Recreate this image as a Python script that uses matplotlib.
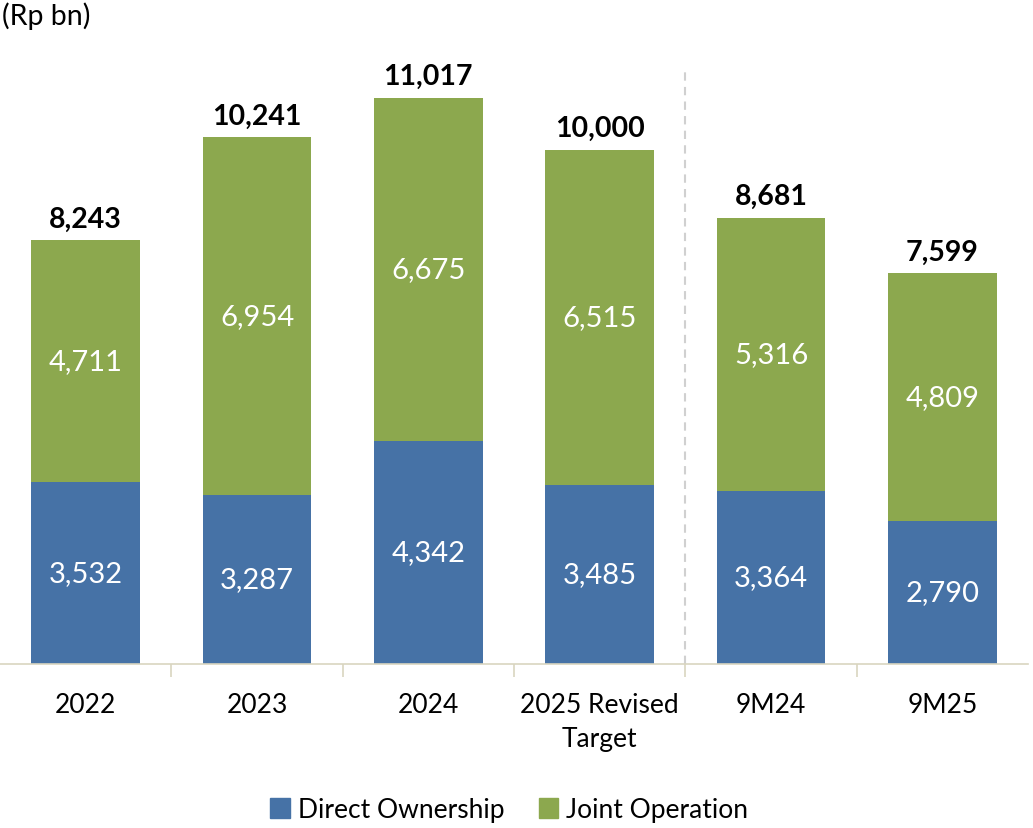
import numpy as np
import matplotlib.pyplot as plt

plt.rcParams['font.family'] = ['Lato', 'DejaVu Sans']

categories = ['2022', '2023', '2024', '2025 Revised\nTarget', '9M24', '9M25']
direct = [3532, 3287, 4342, 3485, 3364, 2790]
joint = [4711, 6954, 6675, 6515, 5316, 4809]
totals = [8243, 10241, 11017, 10000, 8681, 7599]

blue = '#4672A6'
green = '#8CA84E'

fig = plt.figure(figsize=(10.33, 8.29), dpi=100)
ax = fig.add_axes([0.0, (829 - 665) / 829, 1028 / 1033, 617 / 829])

x = np.arange(len(categories))
w = 0.635
ax.bar(x, direct, w, color=blue, zorder=2)
ax.bar(x, joint, w, bottom=direct, color=green, zorder=2)

for i in range(len(x)):
    ax.text(x[i], direct[i] / 2, f'{direct[i]:,}', ha='center', va='center',
            color='white', fontsize=21)
    ax.text(x[i], direct[i] + joint[i] / 2, f'{joint[i]:,}', ha='center', va='center',
            color='white', fontsize=21)
    ax.text(x[i], totals[i] + 170, f'{totals[i]:,}', ha='center', va='bottom',
            color='black', fontsize=20.5, fontweight='bold')

ax.set_xlim(-0.5, 5.5)
ax.set_ylim(0, 12000)
ax.axvline(3.5, ymin=0, ymax=0.96, color='#D0D0D0', lw=1.5, ls=(0, (4, 3)), zorder=1)

for s in ['top', 'right', 'left']:
    ax.spines[s].set_visible(False)
ax.spines['bottom'].set_color('#D9D5C0')
ax.spines['bottom'].set_linewidth(1.2)
ax.set_yticks([])
ax.set_xticks(x)
ax.set_xticklabels(categories, fontsize=19, linespacing=1.45)
ax.tick_params(axis='x', which='major', length=0, pad=20)
ax.set_xticks(np.arange(0.5, 5.5, 1.0), minor=True)
ax.tick_params(axis='x', which='minor', length=9, color='#D9D5C0', width=1.2)

fig.text(0.002, 0.997, '(Rp bn)', ha='left', va='top', fontsize=20.5)

handles = [plt.Rectangle((0, 0), 1, 1, color=blue), plt.Rectangle((0, 0), 1, 1, color=green)]
fig.legend(handles, ['Direct Ownership', 'Joint Operation'], loc='center',
           bbox_to_anchor=(0.493, 0.022), ncol=2, frameon=False, fontsize=19,
           handlelength=0.75, handleheight=0.75, handletextpad=0.3, columnspacing=1.3)

fig.savefig('out.png', dpi=100)
